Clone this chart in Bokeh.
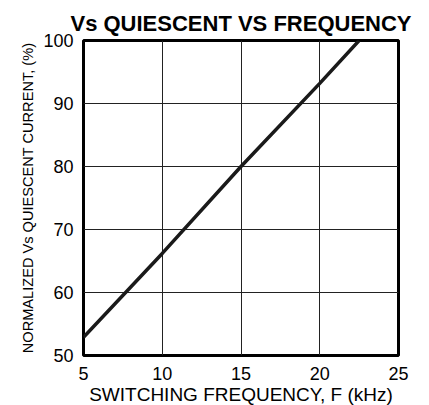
from bokeh.plotting import figure
from bokeh.models import FixedTicker, Range1d
from bokeh.embed import file_html
from bokeh.resources import INLINE

# Data
freq_khz = [5, 10, 15, 20, 22.5]
norm_current_pct = [52.9, 66.2, 80.0, 93.2, 100.0]
x_ticks = [5, 10, 15, 20, 25]
y_ticks = [50, 60, 70, 80, 90, 100]

FONT = "Liberation Sans"

p = figure(
    frame_width=315, frame_height=315,
    min_border_left=83, min_border_right=30, min_border_top=40, min_border_bottom=49,
    x_range=Range1d(5, 25), y_range=Range1d(50, 100),
    output_backend="svg", toolbar_location=None,
    background_fill_color="white", border_fill_color="white",
)

p.title.text = "Vs QUIESCENT VS FREQUENCY"
p.title.text_font = FONT
p.title.text_font_size = "22px"
p.title.text_font_style = "bold"
p.title.text_color = "black"
p.title.align = "center"
p.title.standoff = 10

p.line(freq_khz, norm_current_pct, line_color="#1a1a1a", line_width=3.5)

p.outline_line_color = "black"
p.outline_line_width = 3
p.outline_line_alpha = 1

for ax in (p.xaxis[0], p.yaxis[0]):
    ax.axis_line_color = None
    ax.major_tick_line_color = None
    ax.minor_tick_line_color = None
    ax.major_label_text_font = FONT
    ax.major_label_text_font_size = "18px"
    ax.major_label_text_color = "black"
    ax.axis_label_text_font = FONT
    ax.axis_label_text_font_style = "normal"
    ax.axis_label_text_color = "black"

p.xaxis[0].ticker = FixedTicker(ticks=x_ticks)
p.yaxis[0].ticker = FixedTicker(ticks=y_ticks)
p.xaxis[0].axis_label = "SWITCHING FREQUENCY, F (kHz)"
p.xaxis[0].axis_label_text_font_size = "19px"
p.xaxis[0].major_label_standoff = 5
p.xaxis[0].axis_label_standoff = 1
p.yaxis[0].axis_label = "NORMALIZED Vs QUIESCENT CURRENT, (%)"
p.yaxis[0].axis_label_text_font_size = "14.6px"
p.yaxis[0].major_label_standoff = 4
p.yaxis[0].axis_label_standoff = 4

p.xgrid[0].ticker = FixedTicker(ticks=x_ticks)
p.ygrid[0].ticker = FixedTicker(ticks=y_ticks)
for g in (p.xgrid[0], p.ygrid[0]):
    g.grid_line_color = "#222222"
    g.grid_line_width = 1
    g.grid_line_alpha = 1

open("out.html", "w").write(file_html(p, INLINE))
